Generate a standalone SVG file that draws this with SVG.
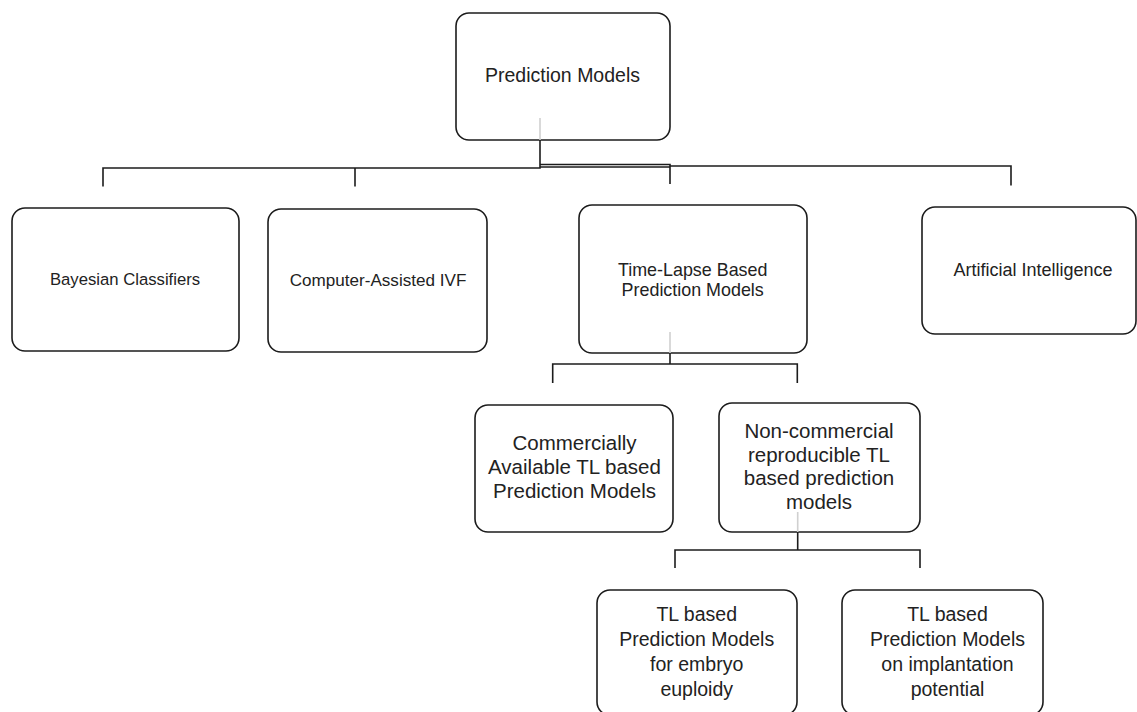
<svg xmlns="http://www.w3.org/2000/svg" width="1137" height="712" viewBox="0 0 1137 712">
<style>
.box{fill:#fff;stroke:#1c1c1c;stroke-width:1.6}
.t{font-family:"Liberation Sans",Arial,sans-serif;fill:#222;text-anchor:middle}
.c{fill:none;stroke:#1c1c1c;stroke-width:1.6}
.g{fill:none;stroke:#d0d0d0;stroke-width:1.6}
</style>
<rect width="1137" height="712" fill="#fff"/>
<g id="root"><rect class="box" x="456" y="13" width="214" height="127" rx="13"/>
<text class="t" x="562.5" y="82" font-size="19.5">Prediction Models</text></g>
<g id="bayes"><rect class="box" x="12" y="208" width="227" height="143" rx="13"/>
<text class="t" x="125" y="285" font-size="16.7">Bayesian Classifiers</text></g>
<g id="cai"><rect class="box" x="268" y="209" width="219" height="143" rx="13"/>
<text class="t" x="378" y="286" font-size="17.1">Computer-Assisted IVF</text></g>
<g id="tl"><rect class="box" x="579" y="205" width="228" height="148" rx="13"/>
<text class="t" x="692.7" y="275.5" font-size="17.9">Time-Lapse Based</text>
<text class="t" x="692.7" y="296" font-size="17.9">Prediction Models</text></g>
<g id="ai"><rect class="box" x="922" y="207" width="214" height="127" rx="13"/>
<text class="t" x="1033" y="276" font-size="18">Artificial Intelligence</text></g>
<g id="commercial"><rect class="box" x="475" y="405" width="198" height="127" rx="13"/>
<text class="t" x="574.5" y="450" font-size="20.5">Commercially</text>
<text class="t" x="574.5" y="474" font-size="20.5">Available TL based</text>
<text class="t" x="574.5" y="498" font-size="20.5">Prediction Models</text></g>
<g id="noncommercial"><rect class="box" x="719" y="403" width="201" height="129" rx="13"/>
<text class="t" x="819" y="438" font-size="20.5">Non-commercial</text>
<text class="t" x="819" y="461.7" font-size="20.5">reproducible TL</text>
<text class="t" x="819" y="485.4" font-size="20.5">based prediction</text>
<text class="t" x="819" y="509" font-size="20.5">models</text></g>
<g id="euploidy"><rect class="box" x="597" y="590" width="200" height="125" rx="13"/>
<text class="t" x="696.7" y="621" font-size="19.5">TL based</text>
<text class="t" x="696.7" y="646" font-size="19.5">Prediction Models</text>
<text class="t" x="696.7" y="671" font-size="19.5">for embryo</text>
<text class="t" x="696.7" y="695.5" font-size="19.5">euploidy</text></g>
<g id="implantation"><rect class="box" x="842" y="590" width="201" height="125" rx="13"/>
<text class="t" x="947.5" y="621" font-size="19.5">TL based</text>
<text class="t" x="947.5" y="646" font-size="19.5">Prediction Models</text>
<text class="t" x="947.5" y="671" font-size="19.5">on implantation</text>
<text class="t" x="947.5" y="695.5" font-size="19.5">potential</text></g>
<g id="connectors">
<path class="g" d="M540 118V140M670 332V353M797.7 512V532"/>
<path class="c" d="M540 140V168H103V186.5M355 168V186.5"/>
<path class="c" d="M540 164.5H670V184M540 167H670M670 166H1011V185.5"/>
<path class="c" d="M670 353V364M552.7 383V364H797.3V383"/>
<path class="c" d="M797.7 532V550M675 568V550H920V568"/>
</g>
</svg>
